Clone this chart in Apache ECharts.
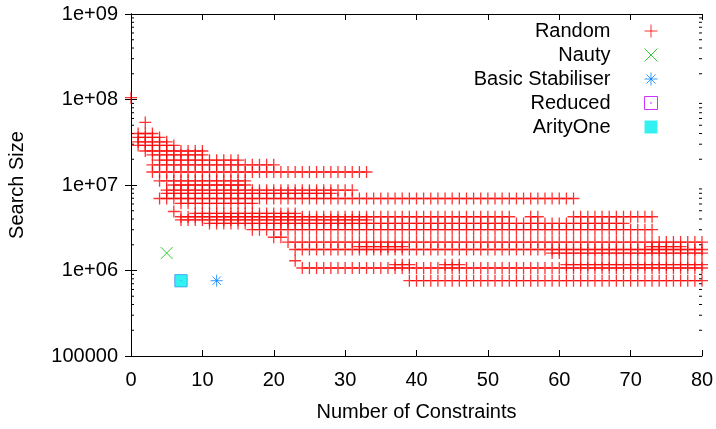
<!DOCTYPE html>
<html><head><meta charset="utf-8">
<script src="https://cdn.jsdelivr.net/npm/echarts@6/dist/echarts.min.js"></script>
<style>html,body{margin:0;padding:0;background:#fff}#c{width:716px;height:429px}</style>
</head><body><div id="c"></div>
<script>
// Random series: horizontal runs of points at integer x: [xFrom, xTo, searchSize]
const randomBands = [
  [0, 0, 1.05e8],
  [2, 2, 5.4e7],
  [1, 3, 4.0e7],
  [1, 4, 3.6e7],
  [1, 5, 3.2e7],
  [1, 6, 2.9e7],
  [2, 10, 2.5e7],
  [3, 10, 2.25e7],
  [4, 15, 1.95e7],
  [3, 20, 1.72e7],
  [3, 33, 1.42e7],
  [4, 16, 1.12e7],
  [6, 16, 1.0e7],
  [5, 31, 8.7e6],
  [5, 28, 8.0e6],
  [4, 62, 6.95e6],
  [7, 17, 6.1e6],
  [6, 6, 4.9e6],
  [9, 23, 4.65e6],
  [7, 53, 4.25e6],
  [56, 57, 4.25e6],
  [62, 73, 4.25e6],
  [7, 33, 3.9e6],
  [11, 69, 3.55e6],
  [17, 73, 3.0e6],
  [20, 21, 2.45e6],
  [22, 80, 2.15e6],
  [32, 38, 1.9e6],
  [73, 77, 1.9e6],
  [23, 80, 1.76e6],
  [59, 80, 1.6e6],
  [23, 23, 1.3e6],
  [37, 39, 1.17e6],
  [44, 46, 1.17e6],
  [61, 80, 1.17e6],
  [24, 80, 1.07e6],
  [39, 80, 7.6e5]
];
const nautyPoints = [[5, 1.6e6]];
const basicStabiliserPoints = [[12, 7.6e5]];
const reducedPoints = [[7, 7.6e5]];
const arityOnePoints = [[7, 7.6e5]];

const seriesNames = ['Random', 'Nauty', 'Basic Stabiliser', 'Reduced', 'ArityOne'];
const xTickValues = [0, 10, 20, 30, 40, 50, 60, 70, 80];
const yTickValues = [1e5, 1e6, 1e7, 1e8, 1e9];
const yTickLabels = ['100000', '1e+06', '1e+07', '1e+08', '1e+09'];
const minorDecades = [1e5, 1e6, 1e7, 1e8];
const minorMultipliers = [2, 3, 4, 5, 6, 7, 8, 9];

const randomPoints = [];
randomBands.forEach(([a, b, v]) => { for (let x = a; x <= b; x++) randomPoints.push([x, v]); });
const minorTickValues = [];
minorDecades.forEach(d => minorMultipliers.forEach(m => minorTickValues.push([m * d])));

const FONT = 'Liberation Sans, Arial, sans-serif';
const SYM_PLUS = 'path://M6,0L6,12M0,6L12,6';
const SYM_CROSS = 'path://M0,0L12,12M0,12L12,0';
const SYM_STAR = 'path://M6,0L6,12M0,6L12,6M1.76,1.76L10.24,10.24M1.76,10.24L10.24,1.76';
const SYM_BOXDOT = 'path://M0,0L12,0L12,12L0,12ZM5.7,5.7L6.3,5.7L6.3,6.3L5.7,6.3Z';

const colors = { Random: '#ff0000', Nauty: '#00c000', 'Basic Stabiliser': '#0080ff', Reduced: '#c000ff', ArityOne: '#00eeee' };
function strokeStyle(c, w) { return { color: 'transparent', borderColor: c, borderWidth: w || 1 }; }

const chart = echarts.init(document.getElementById('c'), null, { renderer: 'canvas' });
const yLabel = v => { const e = Math.round(Math.log10(v)); const i = yTickValues.findIndex(t => Math.round(Math.log10(t)) === e); return i >= 0 ? yTickLabels[i] : ''; };

chart.setOption({
  animation: false,
  textStyle: { fontFamily: FONT },
  grid: { left: 131, right: 14, top: 14, bottom: 73, outerBoundsMode: 'none' },
  legend: {
    orient: 'vertical', right: 58, top: 21, padding: 0, align: 'right',
    itemWidth: 13, itemHeight: 13, itemGap: 4,
    textStyle: { fontSize: 20, color: '#000', fontFamily: FONT, lineHeight: 20, padding: [0, 29, 0, 0] },
    data: [
      { name: 'Random', icon: SYM_PLUS, itemStyle: strokeStyle(colors.Random) },
      { name: 'Nauty', icon: SYM_CROSS, itemStyle: strokeStyle(colors.Nauty) },
      { name: 'Basic Stabiliser', icon: SYM_STAR, itemStyle: strokeStyle(colors['Basic Stabiliser']) },
      { name: 'Reduced', icon: SYM_BOXDOT, itemStyle: strokeStyle(colors.Reduced) },
      { name: 'ArityOne', icon: 'rect', itemStyle: { color: colors.ArityOne, borderWidth: 0 } }
    ]
  },
  xAxis: [
    {
      type: 'value', min: 0, max: 80, interval: 10, position: 'bottom',
      name: 'Number of Constraints', nameLocation: 'middle', nameGap: 46,
      nameTextStyle: { fontSize: 20, color: '#000', fontFamily: FONT },
      axisLine: { show: true, lineStyle: { color: '#000', width: 1 } },
      axisTick: { show: true, inside: true, length: 6, lineStyle: { color: '#000' } },
      axisLabel: { fontSize: 20, color: '#000', margin: 14, fontFamily: FONT },
      splitLine: { show: false }
    },
    {
      type: 'value', min: 0, max: 80, interval: 10, position: 'top',
      axisLine: { show: true, lineStyle: { color: '#000', width: 1 } },
      axisTick: { show: true, inside: true, length: 6, lineStyle: { color: '#000' } },
      axisLabel: { show: false }, splitLine: { show: false }
    }
  ],
  yAxis: [
    {
      type: 'log', logBase: 10, min: 1e5, max: 1e9, position: 'left',
      name: 'Search Size', nameLocation: 'middle', nameGap: 104, nameRotate: 90,
      nameTextStyle: { fontSize: 20, color: '#000', fontFamily: FONT },
      axisLine: { show: true, lineStyle: { color: '#000', width: 1 } },
      axisTick: { show: true, inside: true, length: 6, lineStyle: { color: '#000' } },
      axisLabel: { fontSize: 20, color: '#000', margin: 13, fontFamily: FONT, formatter: yLabel },
      splitLine: { show: false }
    },
    {
      type: 'log', logBase: 10, min: 1e5, max: 1e9, position: 'right',
      axisLine: { show: true, lineStyle: { color: '#000', width: 1 } },
      axisTick: { show: true, inside: true, length: 6, lineStyle: { color: '#000' } },
      axisLabel: { show: false }, splitLine: { show: false }
    }
  ],
  series: [
    {
      type: 'custom', name: 'minorTicks', silent: true, xAxisIndex: 0, yAxisIndex: 0,
      data: minorTickValues, clip: false, z: 1,
      renderItem: (params, api) => {
        const v = api.value(0);
        const l = api.coord([0, v]);
        const r = api.coord([80, v]);
        const st = { stroke: '#000', lineWidth: 1 };
        return { type: 'group', children: [
          { type: 'line', shape: { x1: l[0], y1: l[1], x2: l[0] + 3, y2: l[1] }, style: st },
          { type: 'line', shape: { x1: r[0] - 3, y1: r[1], x2: r[0], y2: r[1] }, style: st }
        ] };
      },
      encode: { y: 0 }
    },
    { type: 'scatter', name: 'Random', data: randomPoints, symbol: SYM_PLUS, symbolSize: 12, clip: false, itemStyle: strokeStyle(colors.Random, 1.3), z: 2 },
    { type: 'scatter', name: 'Nauty', data: nautyPoints, symbol: SYM_CROSS, symbolSize: 12, clip: false, itemStyle: strokeStyle(colors.Nauty), z: 3 },
    { type: 'scatter', name: 'Basic Stabiliser', data: basicStabiliserPoints, symbol: SYM_STAR, symbolSize: 12, clip: false, itemStyle: strokeStyle(colors['Basic Stabiliser']), z: 3 },
    { type: 'scatter', name: 'Reduced', data: reducedPoints, symbol: SYM_BOXDOT, symbolSize: 12, clip: false, itemStyle: strokeStyle(colors.Reduced), z: 3 },
    { type: 'scatter', name: 'ArityOne', data: arityOnePoints, symbol: 'rect', symbolSize: 13, clip: false, itemStyle: { color: colors.ArityOne }, z: 4 }
  ]
});
</script>
</body></html>
